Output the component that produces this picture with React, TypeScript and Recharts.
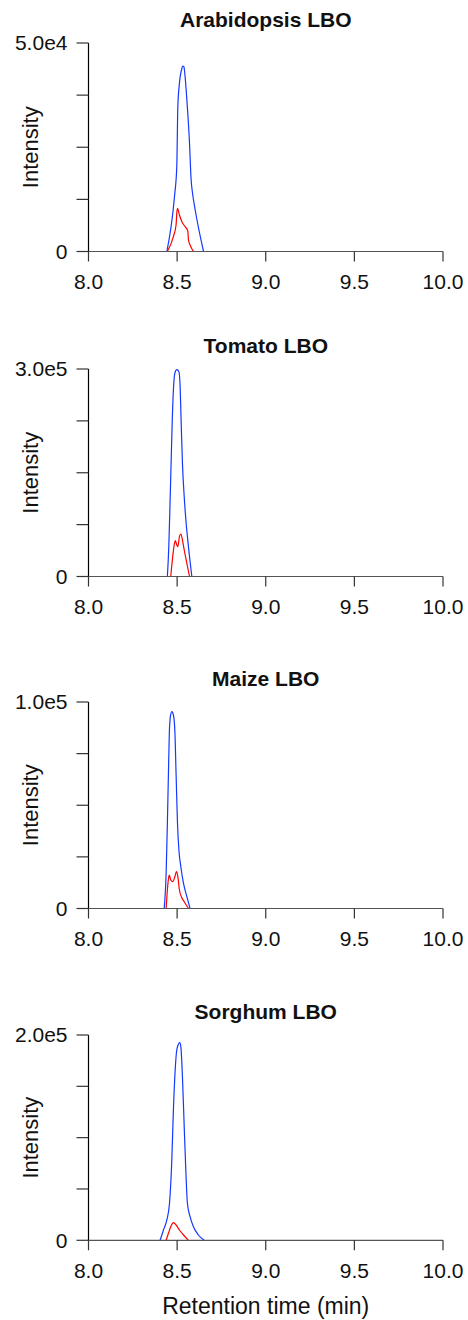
import React from 'react'
import { LineChart, Line, XAxis, YAxis } from 'recharts'

// retention time axis (min)
const timeTicks = [8, 8.5, 9, 9.5, 10]

const titles = ['Arabidopsis LBO', 'Tomato LBO', 'Maize LBO', 'Sorghum LBO']
const yMax = [5e4, 3e5, 1e5, 2e5]
const yMaxLabels = ['5.0e4', '3.0e5', '1.0e5', '2.0e5']

// Arabidopsis
const arabBlueT = [8.442, 8.485, 8.498, 8.504, 8.513, 8.527, 8.532, 8.538, 8.545, 8.555, 8.569, 8.579, 8.587, 8.602, 8.649]
const arabBlueI = [0, 13140, 20340, 34720, 40330, 43930, 44480, 44320, 41920, 36330, 26740, 17150, 13960, 9950, 0]
const arabRedT = [8.445, 8.479, 8.494, 8.498, 8.502, 8.513, 8.527, 8.545, 8.56, 8.564, 8.573, 8.592]
const arabRedI = [0, 3550, 6350, 9160, 10360, 8750, 7150, 5950, 4990, 2760, 1560, 0]

// Tomato
const tomBlueT = [8.445, 8.453, 8.46, 8.466, 8.472, 8.479, 8.487, 8.498, 8.51, 8.517, 8.523, 8.53, 8.54, 8.551, 8.564, 8.583]
const tomBlueI = [0, 43090, 105830, 163660, 221500, 269640, 293780, 299000, 296100, 274410, 221500, 163660, 115370, 76920, 43090, 0]
const tomRedT = [8.464, 8.475, 8.485, 8.49, 8.498, 8.504, 8.513, 8.521, 8.53, 8.54, 8.555, 8.57]
const tomRedI = [0, 28630, 48000, 51760, 45540, 43090, 57540, 61450, 52770, 38310, 19080, 0]

// Maize
const maizeBlueT = [8.427, 8.438, 8.445, 8.451, 8.456, 8.462, 8.47, 8.479, 8.487, 8.494, 8.502, 8.51, 8.521, 8.536, 8.555, 8.573]
const maizeBlueI = [0, 17050, 41260, 65480, 84850, 92890, 95310, 93710, 86450, 65480, 41260, 28330, 20240, 12200, 5710, 0]
const maizeRedT = [8.438, 8.445, 8.453, 8.456, 8.464, 8.475, 8.487, 8.496, 8.504, 8.513, 8.524, 8.54, 8.564]
const maizeRedI = [0, 8960, 15400, 16220, 13800, 12980, 15400, 17820, 15400, 8960, 5710, 3290, 0]

// Sorghum
const sorgBlueT = [8.404, 8.423, 8.442, 8.457, 8.47, 8.479, 8.489, 8.498, 8.51, 8.515, 8.521, 8.53, 8.54, 8.549, 8.558, 8.573, 8.592, 8.62, 8.653]
const sorgBlueI = [0, 10030, 19780, 36050, 78230, 126940, 165910, 185390, 191920, 192500, 188600, 159380, 110670, 68490, 36050, 22990, 13250, 5160, 0]
const sorgRedT = [8.438, 8.451, 8.464, 8.479, 8.494, 8.513, 8.536, 8.564]
const sorgRedI = [0, 6820, 13250, 17150, 14910, 10030, 5160, 0]

const zip = (t: number[], v: number[]) => t.map((x, i) => ({ t: x, v: v[i] }))

const blueSeries = [zip(arabBlueT, arabBlueI), zip(tomBlueT, tomBlueI), zip(maizeBlueT, maizeBlueI), zip(sorgBlueT, sorgBlueI)]
const redSeries = [zip(arabRedT, arabRedI), zip(tomRedT, tomRedI), zip(maizeRedT, maizeRedI), zip(sorgRedT, sorgRedI)]

// layout
const plotTop = [43, 369, 702, 1035]
const plotH = [208.5, 207.5, 206.5, 205.3]
const W = 468
const PAD_TOP = 12
const X_AXIS_H = 52
const FONT = '"Liberation Sans", Arial, sans-serif'

function Panel({ i }: { i: number }) {
  const max = yMax[i]
  const yTicks = [0, max / 4, max / 2, (3 * max) / 4, max]
  return (
    <div style={{ position: 'absolute', left: 0, top: plotTop[i] - PAD_TOP }}>
      <LineChart
        width={W}
        height={PAD_TOP + plotH[i] + X_AXIS_H}
        margin={{ top: PAD_TOP, right: 25, bottom: 0, left: 0 }}
        style={{ overflow: 'visible' }}
      >
        <XAxis
          dataKey="t"
          type="number"
          domain={[8, 10]}
          ticks={timeTicks}
          tickFormatter={(v: number) => v.toFixed(1)}
          height={X_AXIS_H}
          axisLine={{ stroke: '#555', strokeWidth: 1.2 }}
          tickLine={{ stroke: '#333', strokeWidth: 1.2 }}
          tickSize={10}
          tickMargin={13}
          tick={{ fill: '#111', fontSize: 21, fontFamily: FONT }}
          interval={0}
        />
        <YAxis
          type="number"
          domain={[0, max]}
          ticks={yTicks}
          tickFormatter={(v: number) => (v === 0 ? '0' : v === max ? yMaxLabels[i] : '')}
          width={88.5}
          axisLine={{ stroke: '#000', strokeWidth: 1.2 }}
          tickLine={{ stroke: '#333', strokeWidth: 1.2 }}
          tickSize={12}
          tickMargin={9}
          tick={{ fill: '#111', fontSize: 21, fontFamily: FONT }}
          interval={0}
          label={{
            value: 'Intensity',
            angle: -90,
            position: 'insideLeft',
            offset: 30,
            style: { textAnchor: 'middle', fontSize: 22, fontFamily: FONT, fill: '#111' },
          }}
        />
        <Line data={blueSeries[i]} dataKey="v" type="monotone" stroke="#1438ff" strokeWidth={1.2} dot={false} isAnimationActive={false} />
        <Line data={redSeries[i]} dataKey="v" type="monotone" stroke="#ff0000" strokeWidth={1.2} dot={false} isAnimationActive={false} />
      </LineChart>
    </div>
  )
}

export default function App() {
  const cx = (88.5 + (W - 25)) / 2
  return (
    <div style={{ position: 'absolute', left: 0, top: 0, width: W, height: 1320, background: '#fff', fontFamily: FONT }}>
      {titles.map((_, i) => (
        <Panel key={i} i={i} />
      ))}
      <svg width={W} height={1320} style={{ position: 'absolute', left: 0, top: 0, pointerEvents: 'none' }}>
        {titles.map((title, i) => (
          <text key={title} x={cx} y={plotTop[i] - 16} textAnchor="middle" fontSize={21} fontWeight="bold" fontFamily={FONT} fill="#111">
            {title}
          </text>
        ))}
        <text x={cx} y={1314} textAnchor="middle" fontSize={23} fontFamily={FONT} fill="#111">
          Retention time (min)
        </text>
      </svg>
    </div>
  )
}
